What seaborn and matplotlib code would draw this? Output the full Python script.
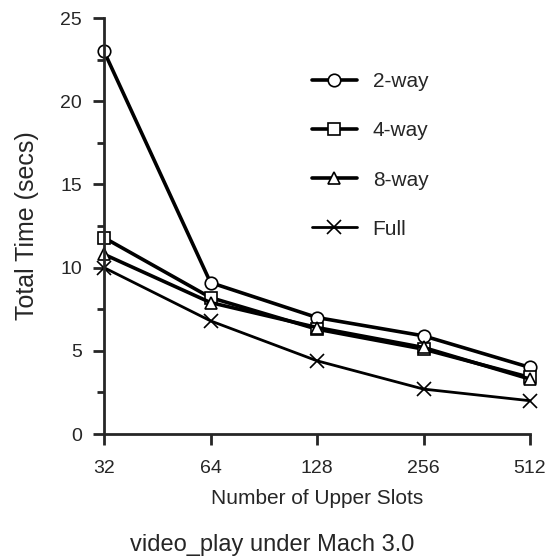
import numpy as np
import pandas as pd
import matplotlib
matplotlib.use('Agg')
import matplotlib.pyplot as plt
import seaborn as sns
from matplotlib.ticker import FixedLocator, NullLocator

# data
slots = [32, 64, 128, 256, 512]
two_way = [23.0, 9.1, 7.0, 5.9, 4.0]
four_way = [11.8, 8.2, 6.3, 5.1, 3.4]
eight_way = [10.8, 7.9, 6.4, 5.2, 3.3]
full = [10.0, 6.8, 4.4, 2.7, 2.0]

series = ['2-way', '4-way', '8-way', 'Full']
values = [two_way, four_way, eight_way, full]
markers = ['o', 's', '^', 'x']
widths = [2.6, 2.6, 2.6, 2.0]
sizes = [9, 8, 8, 10]

sns.set_style('ticks')
plt.rcParams['font.family'] = ['Liberation Sans', 'DejaVu Sans']

fig = plt.figure(figsize=(5.48, 5.58), dpi=100)
ax = fig.add_axes([0.1898, 0.2222, 0.7774, 0.7455])

for name, vals, m, lw, ms in zip(series, values, markers, widths, sizes):
    sns.lineplot(x=slots, y=vals, ax=ax, color='black', marker=m, markersize=ms,
                 mfc='white', mec='black', mew=1.2, lw=lw, label=name, clip_on=False)

ax.set_xscale('log', base=2)
ax.set_xlim(32, 512)
ax.set_ylim(0, 25)
ax.set_xticks(slots)
ax.set_xticklabels([str(s) for s in slots])
ax.xaxis.set_minor_locator(NullLocator())
ax.set_yticks([0, 5, 10, 15, 20, 25])
ax.yaxis.set_minor_locator(FixedLocator(np.arange(2.5, 25, 5)))

ax.tick_params(axis='both', which='major', length=8, width=2, labelsize=14, direction='out')
ax.tick_params(axis='x', pad=11)
ax.tick_params(axis='y', pad=8)
ax.tick_params(axis='y', which='minor', length=5, width=2)
for s in ['left', 'bottom']:
    ax.spines[s].set_linewidth(2)
sns.despine(ax=ax)

ax.set_xlabel('Number of Upper Slots', fontsize=15, labelpad=8)
ax.set_ylabel('Total Time (secs)', fontsize=18, labelpad=15)
fig.text(0.496, 0.024, 'video_play under Mach 3.0', fontsize=17, ha='center', va='center')

leg = ax.legend(loc='upper left', bbox_to_anchor=(0.488, 0.87), frameon=False,
                fontsize=15, handlelength=2.15, handletextpad=0.77,
                labelspacing=1.45, borderpad=0, borderaxespad=0)

fig.savefig('out.png', dpi=100)
